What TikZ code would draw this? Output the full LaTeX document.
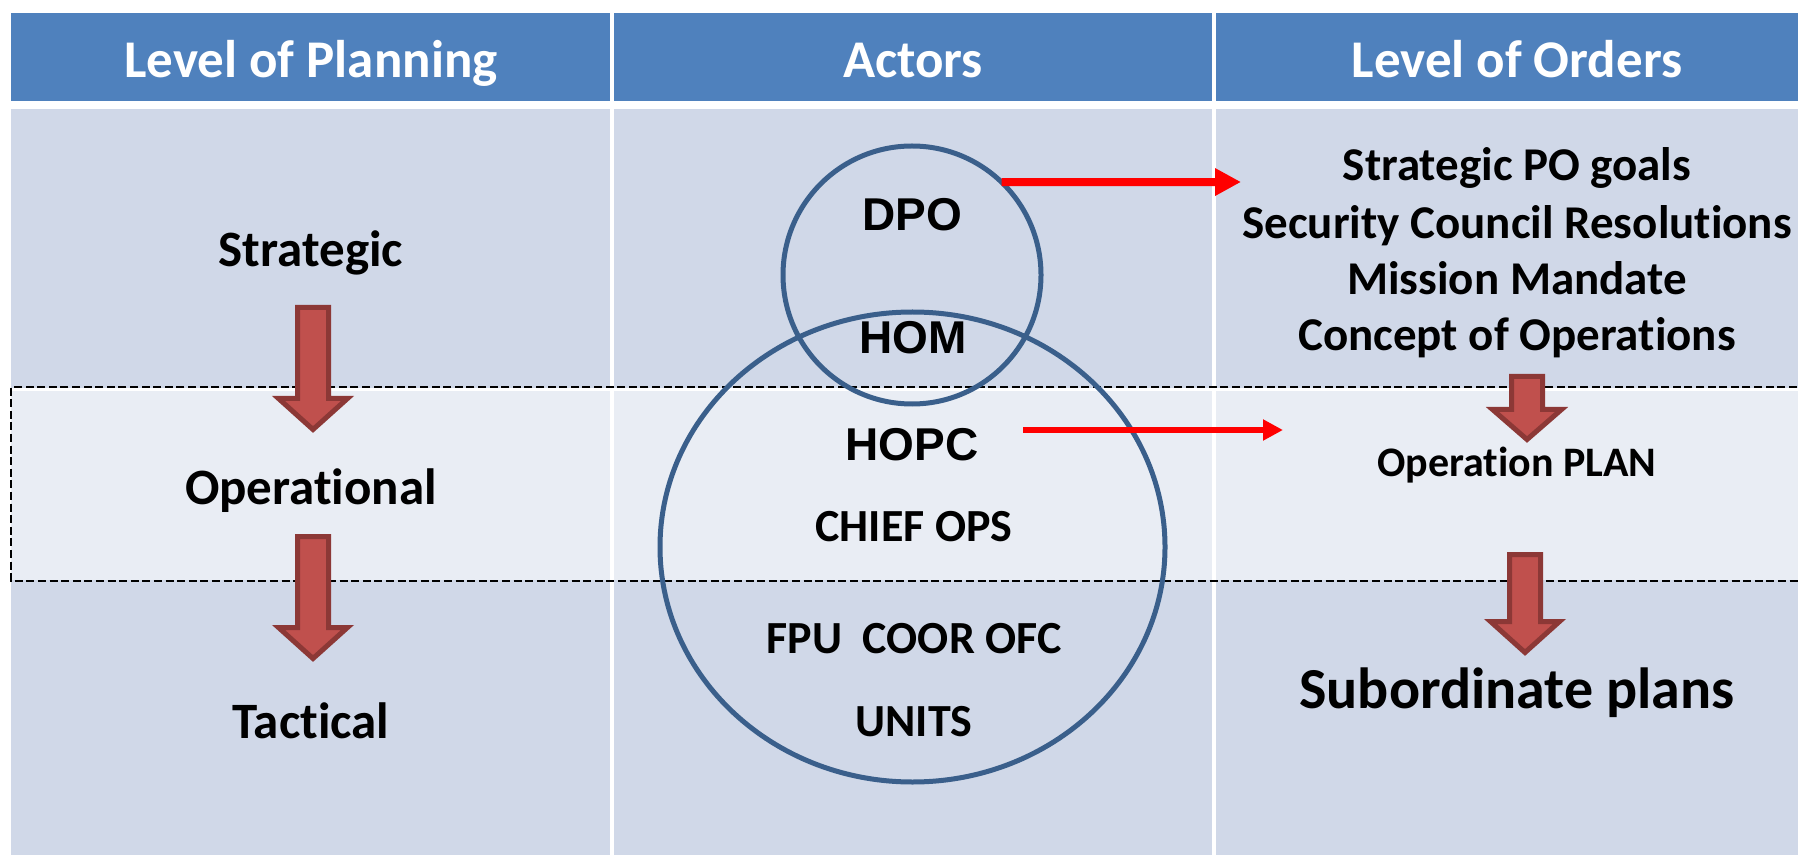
\documentclass[tikz,border=0pt]{standalone}
\usepackage{fontspec}
\setmainfont{Carlito}[Ligatures={NoCommon,NoContextual}]
\newfontfamily\arialfam{Liberation Sans}
\usetikzlibrary{arrows.meta,shapes.geometric}

\definecolor{hdrblue}{HTML}{4F81BD}
\definecolor{cellblue}{HTML}{D0D8E8}
\definecolor{bandblue}{HTML}{E9EDF4}
\definecolor{ringblue}{HTML}{3A5F8B}
\definecolor{blockfill}{HTML}{C0504D}
\definecolor{blockedge}{HTML}{8C3836}

% downward block arrow: centre x, top, shoulder line, tip (outer edges, px)
\newcommand\blockdown[4]{%
  \filldraw[blockarrow]
    (#1-15.5,#2+2.5) -- (#1+15.5,#2+2.5) -- (#1+15.5,#3+2.5) -- (#1+34.5,#3+2.5)
    -- (#1,#4-3.5) -- (#1-34.5,#3+2.5) -- (#1-15.5,#3+2.5) -- cycle;}

\begin{document}
\begin{tikzpicture}[x=0.5pt,y=-0.5pt,
  every node/.style={inner sep=0pt, outer sep=0pt},
  colhead/.style={text=white, font=\bfseries\fontsize{26.5}{30}\selectfont, text height=16.7pt, text depth=0pt},
  levtext/.style={font=\bfseries\fontsize{25.5}{30}\selectfont, text height=16.1pt, text depth=0pt},
  ordtext/.style={font=\bfseries\fontsize{23.5}{28}\selectfont, text height=14.9pt, text depth=0pt},
  actsmall/.style={font=\bfseries\fontsize{23}{28}\selectfont, text height=14.5pt, text depth=0pt},
  actbig/.style={font=\arialfam\bfseries\fontsize{23}{28}\selectfont, text height=16.5pt, text depth=0pt},
  plantext/.style={font=\bfseries\fontsize{21}{25}\selectfont, text height=13.3pt, text depth=0pt},
  subtext/.style={font=\bfseries\fontsize{29}{34}\selectfont, text height=18.3pt, text depth=0pt},
  blockarrow/.style={fill=blockfill, draw=blockedge, line width=2.5pt, line join=miter},
  ring/.style={draw=ringblue, line width=2.5pt},
  redarrow/.style={draw=red, line width=4pt, -{Triangle[length=13pt,width=13pt]}},
  redarrowthin/.style={draw=red, line width=3.3pt, -{Triangle[length=10pt,width=10pt]}},
  bandframe/.style={draw=black, line width=1.3pt, dash pattern=on 4pt off 1.8pt}
]
\useasboundingbox (0,0) rectangle (1798,855);
\clip (0,0) rectangle (1798,855);

% table: header row and body
\fill[white] (0,0) rectangle (1798,855);
\fill[hdrblue] (11,13) rectangle (1810,101);
\fill[cellblue] (11,109) rectangle (1810,860);
% operational row, lighter
\fill[bandblue] (11,389) rectangle (1810,580);
\draw[white, line width=1.5pt] (11,390) -- (1810,390);
% column borders
\draw[white, line width=2pt] (612,10) -- (612,860);
\draw[white, line width=2pt] (1214,10) -- (1214,860);

% dashed frame round the operational level
\draw[bandframe] (1820,387) -- (11,387) -- (11,581) -- (1820,581);

% column headings
\node[colhead] (h1) at (311,61) {Level of Planning};
\node[colhead] (h2) at (913,61) {Actors};
\node[colhead] (h3) at (1517,61) {Level of Orders};

% levels of planning
\node[levtext] (strat) at (311,250) {Strategic};
\node[levtext] (oper) at (311,488) {Operational};
\node[levtext] (tact) at (311,722) {Tactical};
\blockdown{313}{305}{396}{433}
\blockdown{313}{534}{625}{662}

% actors
\node[circle, ring, minimum size=129pt] (c1) at (912,275) {};
\node[ellipse, ring, minimum width=252.5pt, minimum height=235pt] (c2) at (912.5,547) {};
\node[actbig] (dpo) at (912,214) {DPO};
\node[actbig] (hom) at (913,337) {HOM};
\node[actbig] (hopc) at (912,444) {HOPC};
\node[actsmall] (chief) at (914,527) {CHIEF OPS};
\node[actsmall] (fpu) at (914,639) {FPU\ \ COOR OFC};
\node[actsmall] (units) at (914,722) {UNITS};

% levels of orders
\node[ordtext] (o1) at (1517,166) {Strategic PO goals};
\node[ordtext] (o2) at (1517,224) {Security Council Resolutions};
\node[ordtext] (o3) at (1517,280) {Mission Mandate};
\node[ordtext] (o4) at (1517,336) {Concept of Operations};
\node[plantext] (oplan) at (1517,463) {Operation PLAN};
\node[subtext] (subp) at (1517,690) {Subordinate plans};
\blockdown{1527}{374}{407}{443}
\blockdown{1525}{552}{619}{656}

% links from actors to orders
\coordinate (dpoto) at (1241,182);
\coordinate (hopcfrom) at (1023,430);
\coordinate (hopcto) at (1283,430);
\draw[redarrow] (c1.46) -- (dpoto);
\draw[redarrowthin] (hopcfrom) -- (hopcto);
\end{tikzpicture}
\end{document}
